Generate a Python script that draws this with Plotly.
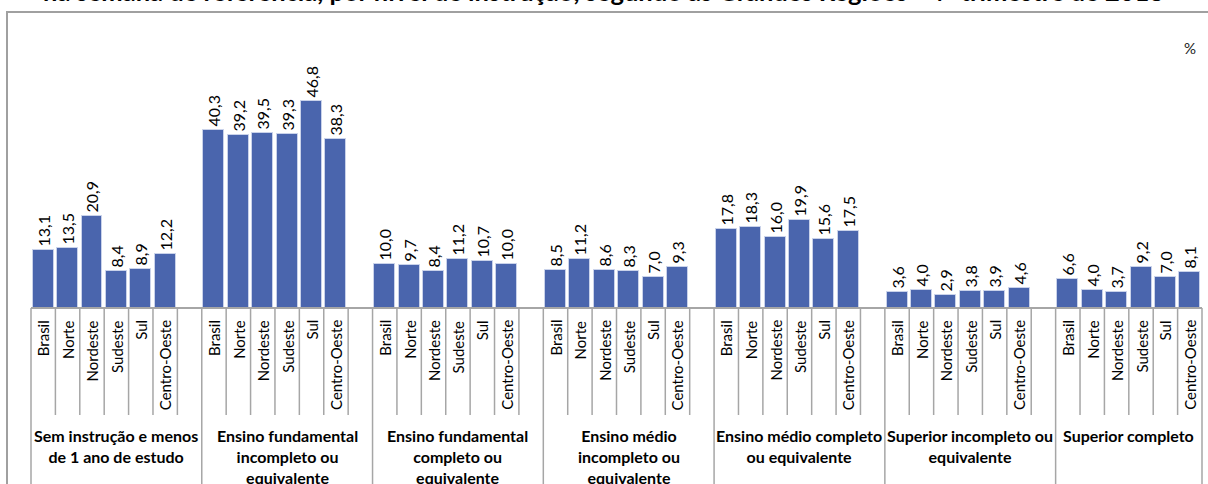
import plotly.graph_objects as go

regions = ["Brasil", "Norte", "Nordeste", "Sudeste", "Sul", "Centro-Oeste"]
groups = [
    "Sem instrução e menos<br>de 1 ano de estudo",
    "Ensino fundamental<br>incompleto ou<br>equivalente",
    "Ensino fundamental<br>completo ou<br>equivalente",
    "Ensino médio<br>incompleto ou<br>equivalente",
    "Ensino médio completo<br>ou equivalente",
    "Superior incompleto ou<br>equivalente",
    "Superior completo",
]
sem_instrucao = [13.1, 13.5, 20.9, 8.4, 8.9, 12.2]
fund_incompleto = [40.3, 39.2, 39.5, 39.3, 46.8, 38.3]
fund_completo = [10.0, 9.7, 8.4, 11.2, 10.7, 10.0]
medio_incompleto = [8.5, 11.2, 8.6, 8.3, 7.0, 9.3]
medio_completo = [17.8, 18.3, 16.0, 19.9, 15.6, 17.5]
superior_incompleto = [3.6, 4.0, 2.9, 3.8, 3.9, 4.6]
superior_completo = [6.6, 4.0, 3.7, 9.2, 7.0, 8.1]
series = [sem_instrucao, fund_incompleto, fund_completo, medio_incompleto,
          medio_completo, superior_incompleto, superior_completo]
title = "na semana de referência, por nível de instrução, segundo as Grandes Regiões - 4º trimestre de 2018"

W, H = 1208, 484
ML, MR, MT, MB = 31, 6, 40, 176
plot_h = H - MT - MB
px_per_unit = 4.42
ymax = plot_h / px_per_unit
nslots = len(groups) * 7 - 1
base_px = H - MB

def py(p):  # pixel y -> paper y
    return (base_px - p) / plot_h

def pxx(p):  # pixel x -> paper x
    return (p - ML) / (W - ML - MR)

FONT = "Lato"
xs, ys, texts = [], [], []
for g, vals in enumerate(series):
    for r, v in enumerate(vals):
        xs.append(g * 7 + r)
        ys.append(v)
        texts.append(f"{v:.1f}".replace(".", ","))

fig = go.Figure()
fig.add_trace(go.Bar(
    x=xs, y=ys, text=texts, textposition="outside", textangle=-90,
    constraintext="none", cliponaxis=False, width=0.86,
    marker=dict(color="#4a65ad", line=dict(color="#c9d2ea", width=1)),
    textfont=dict(family=FONT, size=16, color="#000000"),
    hoverinfo="skip",
))

shapes = []
# outer chart border
shapes.append(dict(type="rect", xref="paper", yref="paper",
                   x0=pxx(7), x1=pxx(1230), y0=py(12), y1=py(520),
                   line=dict(color="#a0a0a0", width=2), fillcolor="rgba(0,0,0,0)"))
# axis baseline
shapes.append(dict(type="line", xref="paper", yref="paper", x0=0, x1=1,
                   y0=0, y1=0, line=dict(color="#a6a6a6", width=2)))
for b in range(nslots + 1):
    long = (b % 7 == 0) or b == nslots
    shapes.append(dict(type="line", xref="paper", yref="paper",
                       x0=b / nslots, x1=b / nslots, y0=0,
                       y1=py(520) if long else py(415),
                       line=dict(color="#a6a6a6", width=1.5)))

annotations = []
for g in range(len(groups)):
    for r, name in enumerate(regions):
        annotations.append(dict(x=g * 7 + r, xref="x", y=py(318), yref="paper",
                                text=name, textangle=-90, showarrow=False,
                                xanchor="center", yanchor="top",
                                font=dict(family=FONT, size=15, color="#000000")))
    nslot_g = 7 if g < len(groups) - 1 else 6
    annotations.append(dict(x=g * 7 + (nslot_g - 1) / 2, xref="x", y=py(424), yref="paper",
                            text="<b>" + groups[g] + "</b>", showarrow=False,
                            xanchor="center", yanchor="top", align="center",
                            font=dict(family=FONT, size=16, color="#000000")))
annotations.append(dict(x=pxx(603), xref="paper", y=py(8), yref="paper",
                        text="<b>" + title + "</b>", showarrow=False,
                        xanchor="center", yanchor="bottom",
                        font=dict(family=FONT, size=25.5, color="#000000")))
annotations.append(dict(x=pxx(1190), xref="paper", y=py(48), yref="paper",
                        text="%", showarrow=False, xanchor="center", yanchor="middle",
                        font=dict(family=FONT, size=15, color="#222222")))

fig.update_layout(
    width=W, height=H, margin=dict(l=ML, r=MR, t=MT, b=MB),
    paper_bgcolor="white", plot_bgcolor="white",
    showlegend=False, bargap=0,
    xaxis=dict(range=[-0.5, nslots - 0.5], showticklabels=False, showgrid=False,
               zeroline=False, showline=False, ticks=""),
    yaxis=dict(range=[0, ymax], visible=False, showgrid=False, zeroline=False),
    shapes=shapes, annotations=annotations,
)
fig.write_html("out.html", config={"displayModeBar": False},
               post_script="document.body.style.margin='0';document.body.style.overflow='hidden';")
